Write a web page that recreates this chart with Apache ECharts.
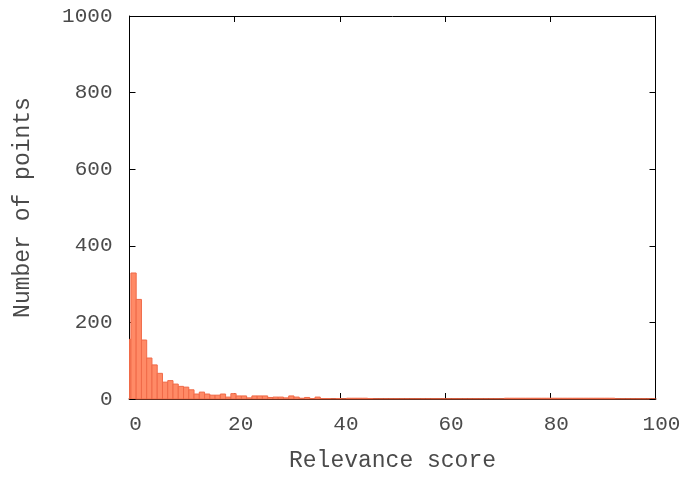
<!DOCTYPE html>
<html>
<head>
<meta charset="utf-8">
<script src="https://cdn.jsdelivr.net/npm/echarts@6/dist/echarts.min.js"></script>
<style>html,body{margin:0;padding:0;background:#fff}#c{width:687px;height:477px}</style>
</head>
<body>
<div id="c"></div>
<script>
// Histogram bins: bin j spans [binStart[j], binStart[j] + binWidth]
const binWidth = 1;
const binOffset = -0.73;
const counts = [
  156, 329, 260, 154, 107, 89, 67, 44, 48, 39,
  33, 31, 24, 13, 18, 13, 10, 10, 13, 5,
  14, 8, 8, 3, 8, 8, 8, 4, 5, 5,
  3, 8, 5, 2, 4, 1, 5, 1, 1, 0,
  1, 0, 2, 2, 2, 2, 1, 0, 0, 0,
  0, 0, 0, 0, 0, 0, 0, 0, 0, 0,
  0, 0, 0, 0, 0, 0, 0, 0, 0, 0,
  0, 0, 2, 2, 2, 2, 2, 2, 2, 2,
  2, 2, 2, 2, 2, 2, 2, 2, 2, 2,
  2, 2, 2, 0, 0, 0, 0, 0, 0, 0, 0
];
const xTicks = [0, 20, 40, 60, 80, 100];
const yTicks = [0, 200, 400, 600, 800, 1000];
const xTitle = 'Relevance score';
const yTitle = 'Number of points';

const data = counts.map((c, j) => [j + binOffset, j + binOffset + binWidth, c]);

const font = 'Liberation Mono';
const textColor = '#4a4a4a';
const chart = echarts.init(document.getElementById('c'), null, {renderer: 'canvas'});
const tickStyle = {show: true, inside: true, length: 6, lineStyle: {color: '#000', width: 1}};
const plain = v => String(v);
chart.setOption({
  animation: false,
  backgroundColor: '#fff',
  grid: {left: 129.5, right: 31.5, top: 16, bottom: 76},
  xAxis: [{
    type: 'value', min: xTicks[0], max: xTicks[xTicks.length - 1], interval: 20,
    name: xTitle, nameLocation: 'middle', nameGap: 50,
    nameTextStyle: {fontFamily: font, fontSize: 23, color: textColor},
    axisLine: {show: true, onZero: false, lineStyle: {color: '#6e3222', width: 2}},
    axisTick: tickStyle,
    axisLabel: {fontFamily: font, fontSize: 21, color: textColor, margin: 15, padding: [0, 0, 0, 12], formatter: plain},
    splitLine: {show: false}
  }, {
    type: 'value', position: 'top', min: xTicks[0], max: xTicks[xTicks.length - 1], interval: 20,
    axisLine: {show: true, onZero: false, lineStyle: {color: '#000', width: 1}},
    axisTick: tickStyle, axisLabel: {show: false}, splitLine: {show: false}
  }],
  yAxis: [{
    type: 'value', min: yTicks[0], max: yTicks[yTicks.length - 1], interval: 200,
    name: yTitle, nameLocation: 'middle', nameGap: 95, nameRotate: 90,
    nameTextStyle: {fontFamily: font, fontSize: 23, color: textColor},
    axisLine: {show: true, onZero: false, lineStyle: {color: '#000', width: 1}},
    axisTick: tickStyle,
    axisLabel: {fontFamily: font, fontSize: 21, color: textColor, margin: 17, padding: [4, 0, 0, 0], formatter: plain},
    splitLine: {show: false}
  }, {
    type: 'value', position: 'right', min: yTicks[0], max: yTicks[yTicks.length - 1], interval: 200,
    axisLine: {show: true, onZero: false, lineStyle: {color: '#000', width: 1}},
    axisTick: tickStyle, axisLabel: {show: false}, splitLine: {show: false}
  }],
  series: [{
    type: 'custom',
    xAxisIndex: 0, yAxisIndex: 0,
    data: data,
    clip: true,
    encode: {x: [0, 1], y: 2},
    renderItem: function (params, api) {
      const p0 = api.coord([api.value(0), 0]);
      const p1 = api.coord([api.value(1), api.value(2)]);
      const rect = echarts.graphic.clipRectByRect({
        x: p0[0], y: p1[1], width: p1[0] - p0[0], height: p0[1] - p1[1]
      }, {
        x: params.coordSys.x, y: params.coordSys.y,
        width: params.coordSys.width, height: params.coordSys.height
      });
      if (!rect) return null;
      return {
        type: 'rect',
        shape: rect,
        style: {fill: '#ff8a66', stroke: '#f06a48', lineWidth: 1}
      };
    },
    z: 1
  }]
});
</script>
</body>
</html>
